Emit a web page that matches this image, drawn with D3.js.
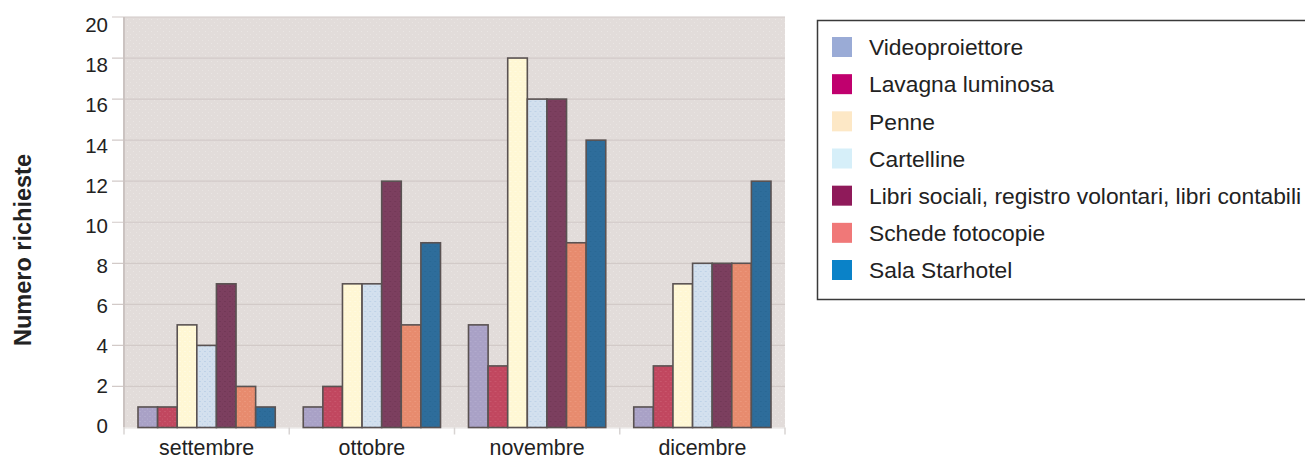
<!DOCTYPE html>
<html>
<head>
<meta charset="utf-8">
<script src="https://cdn.jsdelivr.net/npm/d3@7"></script>
<style>
  html, body { margin: 0; padding: 0; background: #ffffff; }
  svg { display: block; font-family: "Liberation Sans", Arial, Helvetica, sans-serif; }
</style>
</head>
<body>
<svg id="chart" width="1305" height="459"></svg>
<script>
// Monthly requests per resource
const categories = ["settembre", "ottobre", "novembre", "dicembre"];
const seriesNames = [
  "Videoproiettore",
  "Lavagna luminosa",
  "Penne",
  "Cartelline",
  "Libri sociali, registro volontari, libri contabili",
  "Schede fotocopie",
  "Sala Starhotel"
];
const videoproiettore = [1, 1, 5, 1];
const lavagnaLuminosa = [1, 2, 3, 3];
const penne           = [5, 7, 18, 7];
const cartelline      = [4, 7, 16, 8];
const libriSociali    = [7, 12, 16, 8];
const schedeFotocopie = [2, 5, 9, 8];
const salaStarhotel   = [1, 9, 14, 12];
const yTicks = [0, 2, 4, 6, 8, 10, 12, 14, 16, 18, 20];

const seriesValues = [videoproiettore, lavagnaLuminosa, penne, cartelline,
                      libriSociali, schedeFotocopie, salaStarhotel];

// bar fills (textured) and legend swatch colours
const barColors    = ["#a9a1c6", "#c1475f", "#fff7d4", "#d3e0ee", "#7c3f5f", "#e78b6e", "#2e6d9b"];
const dotColors    = ["#c7c2dc", "#d9788a", "#ffffff", "#8fb2d8", "#5a2a44", "#f4b198", "#1d5a86"];
const legendColors = ["#9aabd6", "#c0006e", "#fde8c6", "#d6eff9", "#8f1a5a", "#f07878", "#0a82c8"];

const svg = d3.select("#chart");
const defs = svg.append("defs");

// stippled textures
const bgPat = defs.append("pattern").attr("id", "bg-pat")
  .attr("patternUnits", "userSpaceOnUse").attr("width", 6).attr("height", 6);
bgPat.append("rect").attr("width", 6).attr("height", 6).attr("fill", "#e2dcda");
bgPat.append("circle").attr("cx", 1.5).attr("cy", 1.5).attr("r", 0.6).attr("fill", "#ece8e6");
bgPat.append("circle").attr("cx", 4.5).attr("cy", 4.5).attr("r", 0.6).attr("fill", "#ebe6e4");

seriesNames.forEach((name, i) => {
  const p = defs.append("pattern").attr("id", "bar-pat-" + i)
    .attr("patternUnits", "userSpaceOnUse").attr("width", 5).attr("height", 5);
  p.append("rect").attr("width", 5).attr("height", 5).attr("fill", barColors[i]);
  p.append("circle").attr("cx", 1).attr("cy", 1.5).attr("r", 0.6).attr("fill", dotColors[i]).attr("opacity", 0.7);
  p.append("circle").attr("cx", 3.5).attr("cy", 4).attr("r", 0.5).attr("fill", dotColors[i]).attr("opacity", 0.5);
});

// scales
const x0 = d3.scaleBand().domain(categories).range([124, 785]).padding(0);
const x1 = d3.scaleBand().domain(seriesNames).range([14, x0.bandwidth() - 14]).padding(0);
const y = d3.scaleLinear().domain([0, 20]).range([427.5, 17]);
const yLabel = d3.scaleLinear().domain([0, 20]).range([425.5, 25]);

// plot background
svg.append("rect")
  .attr("x", x0.range()[0]).attr("y", y(20))
  .attr("width", x0.range()[1] - x0.range()[0]).attr("height", y(0) - y(20))
  .attr("fill", "url(#bg-pat)");

// gridlines
svg.append("g").selectAll("line").data(yTicks.filter(d => d > 0)).join("line")
  .attr("x1", x0.range()[0] - 12).attr("x2", x0.range()[1])
  .attr("y1", d => y(d)).attr("y2", d => y(d))
  .attr("stroke", "#d2cac8").attr("stroke-width", 1.2);

// left axis line
svg.append("line")
  .attr("x1", x0.range()[0]).attr("x2", x0.range()[0])
  .attr("y1", y(20)).attr("y2", y(0))
  .attr("stroke", "#cbc3c1").attr("stroke-width", 2);

// y tick labels
svg.append("g").selectAll("text").data(yTicks).join("text")
  .attr("x", 108).attr("y", d => yLabel(d)).attr("dy", "0.36em")
  .attr("text-anchor", "end").attr("font-size", 20.5).attr("fill", "#222")
  .text(d => d);

// x axis baseline and ticks
svg.append("line")
  .attr("x1", x0.range()[0]).attr("x2", x0.range()[1])
  .attr("y1", y(0) + 0.5).attr("y2", y(0) + 0.5)
  .attr("stroke", "#e4e0df").attr("stroke-width", 1);
const tickXs = categories.map(c => x0(c)).concat([x0.range()[1]]);
svg.append("g").selectAll("line").data(tickXs).join("line")
  .attr("x1", d => d).attr("x2", d => d)
  .attr("y1", y(0)).attr("y2", y(0) + 7)
  .attr("stroke", "#d8d4d3").attr("stroke-width", 1.5);

// x category labels
svg.append("g").selectAll("text").data(categories).join("text")
  .attr("x", d => x0(d) + x0.bandwidth() / 2).attr("y", 455)
  .attr("text-anchor", "middle").attr("font-size", 21.4).attr("fill", "#222")
  .text(d => d);

// bars
const groups = svg.append("g").selectAll("g").data(categories).join("g")
  .attr("transform", d => `translate(${x0(d)},0)`);
groups.selectAll("rect")
  .data((c, ci) => seriesNames.map((s, si) => ({ s, si, v: seriesValues[si][ci] })))
  .join("rect")
  .attr("x", d => x1(d.s)).attr("width", x1.bandwidth())
  .attr("y", d => y(d.v)).attr("height", d => y(0) - y(d.v))
  .attr("fill", d => `url(#bar-pat-${d.si})`)
  .attr("stroke", "#5a5252").attr("stroke-width", 1.6);

// y axis title
svg.append("text")
  .attr("transform", "translate(31,250) rotate(-90)")
  .attr("text-anchor", "middle").attr("font-size", 23.5).attr("font-weight", "bold")
  .attr("fill", "#222")
  .text("Numero richieste");

// legend
const legend = svg.append("g");
legend.append("rect")
  .attr("x", 817.5).attr("y", 20.5).attr("width", 520).attr("height", 279)
  .attr("fill", "#fff").attr("stroke", "#3a3a3a").attr("stroke-width", 1.5);
const rowY = d3.scalePoint().domain(seriesNames).range([47, 270]);
const rows = legend.selectAll("g.row").data(seriesNames).join("g")
  .attr("class", "row")
  .attr("transform", d => `translate(0,${rowY(d)})`);
rows.append("rect")
  .attr("x", 832).attr("y", -10).attr("width", 20).attr("height", 20)
  .attr("fill", (d, i) => legendColors[i]);
rows.append("text")
  .attr("x", 869).attr("y", 0).attr("dy", "0.36em")
  .attr("font-size", 22.8).attr("fill", "#222")
  .text(d => d);
</script>
</body>
</html>
